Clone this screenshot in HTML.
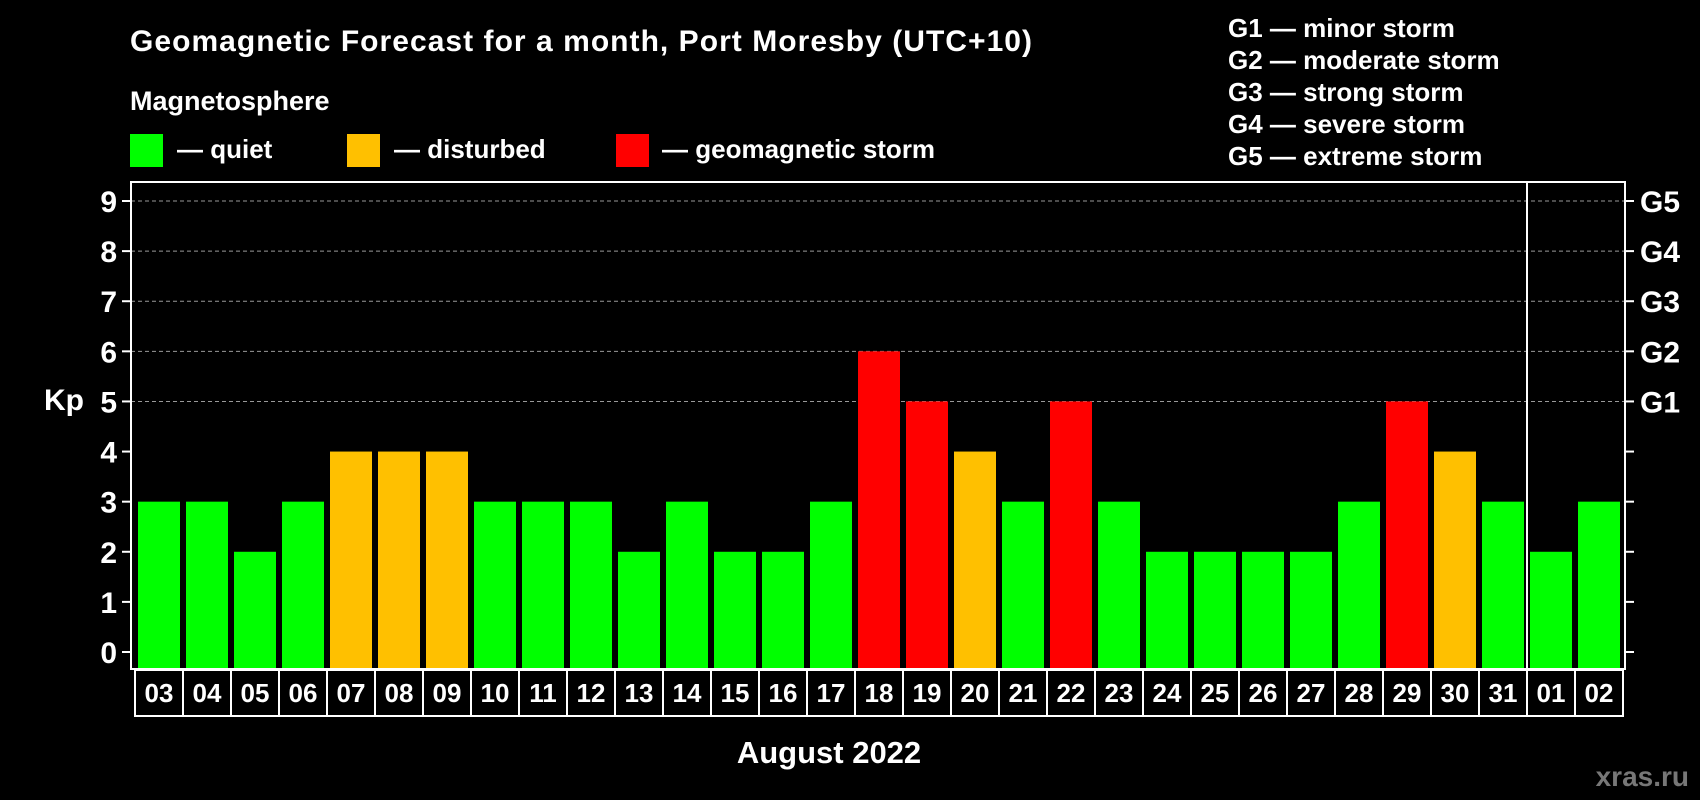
<!DOCTYPE html>
<html><head><meta charset="utf-8"><style>
body{margin:0;background:#000;}
svg{display:block;font-family:"Liberation Sans",sans-serif;font-weight:bold;}
</style></head><body>
<svg id="chart" width="1700" height="800" viewBox="0 0 1700 800">
<rect width="1700" height="800" fill="#000"/>
<text x="130" y="51" fill="#fff" font-size="30" textLength="902">Geomagnetic Forecast for a month, Port Moresby (UTC+10)</text>
<text x="130" y="110" fill="#fff" font-size="27">Magnetosphere</text>
<g><rect x="130" y="134" width="33" height="33" fill="#00ff00"/><text x="177" y="158" fill="#fff" font-size="26">— quiet</text></g>
<g><rect x="347" y="134" width="33" height="33" fill="#ffc000"/><text x="394" y="158" fill="#fff" font-size="26">— disturbed</text></g>
<g><rect x="616" y="134" width="33" height="33" fill="#ff0000"/><text x="662" y="158" fill="#fff" font-size="26">— geomagnetic storm</text></g>
<g fill="#fff" font-size="26">
<text x="1228" y="37">G1 — minor storm</text>
<text x="1228" y="69">G2 — moderate storm</text>
<text x="1228" y="101">G3 — strong storm</text>
<text x="1228" y="133">G4 — severe storm</text>
<text x="1228" y="165">G5 — extreme storm</text>
</g>
<text x="64" y="410" fill="#fff" font-size="30" text-anchor="middle">Kp</text>
<text x="829" y="763" fill="#fff" font-size="31" text-anchor="middle">August 2022</text>
<text x="1689" y="786" fill="#777" font-size="28" text-anchor="end">xras.ru</text>
<g id="plot"></g>
</svg>
<script>
const days=["03","04","05","06","07","08","09","10","11","12","13","14","15","16","17","18","19","20","21","22","23","24","25","26","27","28","29","30","31","01","02"];
const kp=[3,3,2,3,4,4,4,3,3,3,2,3,2,2,3,6,5,4,3,5,3,2,2,2,2,3,5,4,3,2,3];
const yTicks=[0,1,2,3,4,5,6,7,8,9];
const gLabels=["G1","G2","G3","G4","G5"];
const gLevels=[5,6,7,8,9];
const NS="http://www.w3.org/2000/svg";
const g=document.getElementById('plot');
const L=131,R=1625,T=182,B=669,slot0=135,slotW=48;
const y=v=>652-v*(451/9);
const x=i=>slot0+i*slotW;
function mk(t,a){const e=document.createElementNS(NS,t);for(const k in a)e.setAttribute(k,a[k]);g.appendChild(e);return e;}
yTicks.forEach(v=>{
 if(v>=5){const gl=mk('line',{x1:L,x2:R,y1:y(v),y2:y(v),stroke:'#999','stroke-dasharray':'4 3','stroke-width':1});
 
 }
});
kp.forEach((v,i)=>{
 const c=v>=5?'#ff0000':v>=4?'#ffc000':'#00ff00';
 const r=mk('rect',{x:x(i)+3,y:y(v),width:42,height:B-y(v),fill:c});
 
 
 const b=mk('rect',{x:x(i),y:670,width:slotW,height:46,fill:'none',stroke:'#fff','stroke-width':2});
 
 
 const t=mk('text',{x:x(i)+slotW/2,y:702,fill:'#fff','font-size':26,'text-anchor':'middle'});
 t.textContent=days[i];
 
 
});
const fr=mk('rect',{x:L,y:T,width:R-L,height:B-T,fill:'none',stroke:'#fff','stroke-width':2});


const sep=mk('line',{x1:x(29),x2:x(29),y1:T,y2:B,stroke:'#fff','stroke-width':2});


yTicks.forEach(v=>{
 const a=mk('line',{x1:122,x2:L,y1:y(v),y2:y(v),stroke:'#fff','stroke-width':2});
 
 
 const b=mk('line',{x1:R,x2:1634,y1:y(v),y2:y(v),stroke:'#fff','stroke-width':2});
 
 
 const t=mk('text',{x:117,y:y(v)+11,fill:'#fff','font-size':30,'text-anchor':'end'});
 t.textContent=v;
 
 
});
gLevels.forEach((v,i)=>{
 const t=mk('text',{x:1640,y:y(v)+11,fill:'#fff','font-size':30});
 t.textContent=gLabels[i];
 
 
});
</script>
</body></html>
